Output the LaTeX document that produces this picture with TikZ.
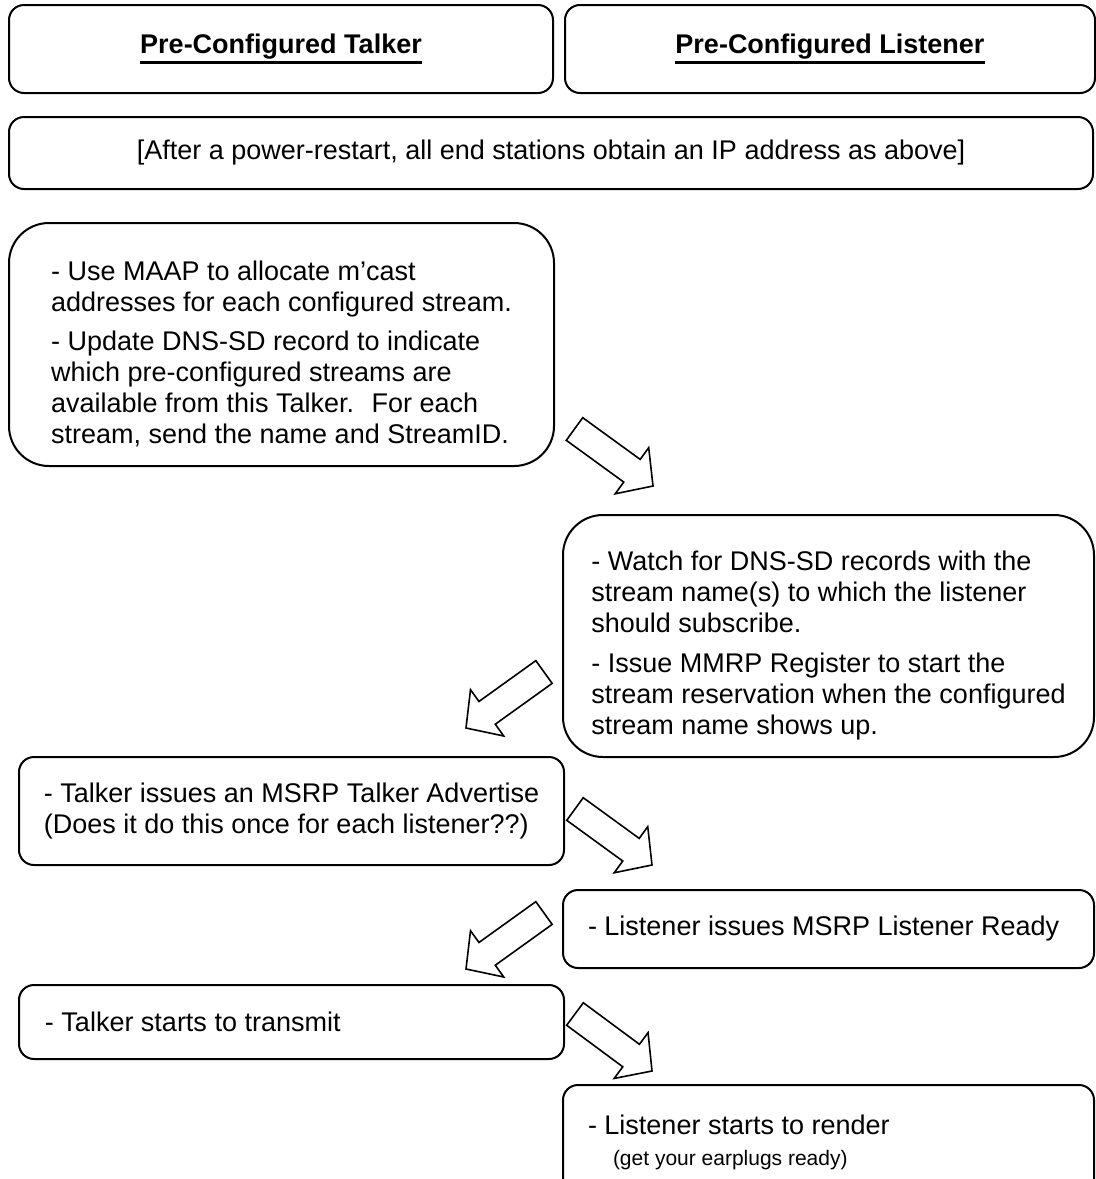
\documentclass[tikz,border=0pt]{standalone}
\usepackage{fontspec}
\setmainfont{Liberation Sans}
\usepackage{tikz}
\usetikzlibrary{positioning,calc}
\newcommand{\ulhead}[1]{\setbox0=\hbox{\bfseries #1}\rlap{\copy0}\raisebox{-5.3pt}{\rule{\wd0}{1.5pt}}}

\begin{document}
\begin{tikzpicture}[
  x=0.5pt, y=-0.5pt,
  stage/.style={draw=black,line width=1pt,rounded corners=7.5pt,align=left,
                font=\fontsize{13.5}{15.5}\selectfont,
                execute at begin node={\spaceskip=0pt\xspaceskip=0pt}},
  bigstage/.style={stage,rounded corners=20pt},
  blockarr/.style={draw=black,line width=0.8pt,fill=white,line join=miter}
]
  \useasboundingbox (0,0) rectangle (1096,1179);
  % headers
  \node[stage,minimum width=272pt,minimum height=44pt] (talkhdr) at (281,49)
    {\ulhead{Pre-Configured Talker}};
  \node[stage,minimum width=265pt,minimum height=44pt,right=5pt of talkhdr] (listhdr)
    {\ulhead{Pre-Configured Listener}};
  \node[stage,minimum width=542pt,minimum height=36pt] (note) at (551,153)
    {[After a power-restart, all end stations obtain an IP address as above]};
  % talker / listener steps
  \node[bigstage,minimum width=272.5pt,minimum height=121.5pt] (maap) at (281.5,344.5)
    {\rule{0pt}{19pt}- Use MAAP to allocate m’cast\\addresses for each configured stream.\\[4pt]
     - Update DNS-SD record to indicate\\which pre-configured streams are\\
     available from this Talker.~ For each\\stream, send the name and StreamID.};
  \node[bigstage,minimum width=265.5pt,minimum height=121pt] (watch) at (828.5,636)
    {\rule{0pt}{19pt}- Watch for DNS-SD records with the\\stream name(s) to which the listener\\
     should subscribe.\\[4.5pt]
     - Issue MMRP Register to start the\\stream reservation when the configured\\
     stream name shows up.};
  \node[stage,minimum width=272.5pt,minimum height=54pt] (adv) at (291.5,811)
    {- Talker issues an MSRP Talker Advertise\\(Does it do this once for each listener??)};
  \node[stage,text width=240.5pt,inner xsep=12.5pt,minimum height=39pt] (ready) at (828.5,929)
    {- Listener issues MSRP Listener Ready};
  \node[stage,text width=246.5pt,inner xsep=13pt,minimum height=37pt] (tx) at (291.5,1022)
    {- Talker starts to transmit};
  \node[stage,text width=240.5pt,inner xsep=12.5pt,minimum height=57.5pt] (render) at (828.5,1142.5)
    {- Listener starts to render\\
     \hspace*{12.5pt}{\fontsize{10.5}{12}\selectfont (get your earplugs ready)}};
  % block arrows
  \coordinate (t1) at ($(maap.south east)+(19.5,-38)$);
  \coordinate (p1) at ($(watch.north west)+(91,-28)$);
  \coordinate (t2) at ($(watch.west)+(-18,36)$);
  \coordinate (p2) at ($(adv.north east)+(-99,-28)$);
  \coordinate (t3) at ($(adv.east)+(10,-2)$);
  \coordinate (p3) at ($(ready.north west)+(90,-24)$);
  \coordinate (t4) at ($(ready.west)+(-18,-16)$);
  \coordinate (p4) at ($(tx.north east)+(-99,-15)$);
  \coordinate (t5) at ($(tx.east)+(10,-8)$);
  \coordinate (p5) at ($(render.north west)+(90,-13)$);
  \foreach \t/\p in {t1/p1,t2/p2,t3/p3,t4/p4,t5/p5}{
    \coordinate (s) at ($(\p)!13pt!(\t)$);
    \draw[blockarr] ($(\t)!7pt!90:(\p)$) -- ($(s)!7pt!90:(\p)$) -- ($(s)!14.25pt!90:(\p)$)
      -- (\p) -- ($(s)!14.25pt!-90:(\p)$) -- ($(s)!7pt!-90:(\p)$) -- ($(\t)!7pt!-90:(\p)$) -- cycle;
  }
\end{tikzpicture}
\end{document}
